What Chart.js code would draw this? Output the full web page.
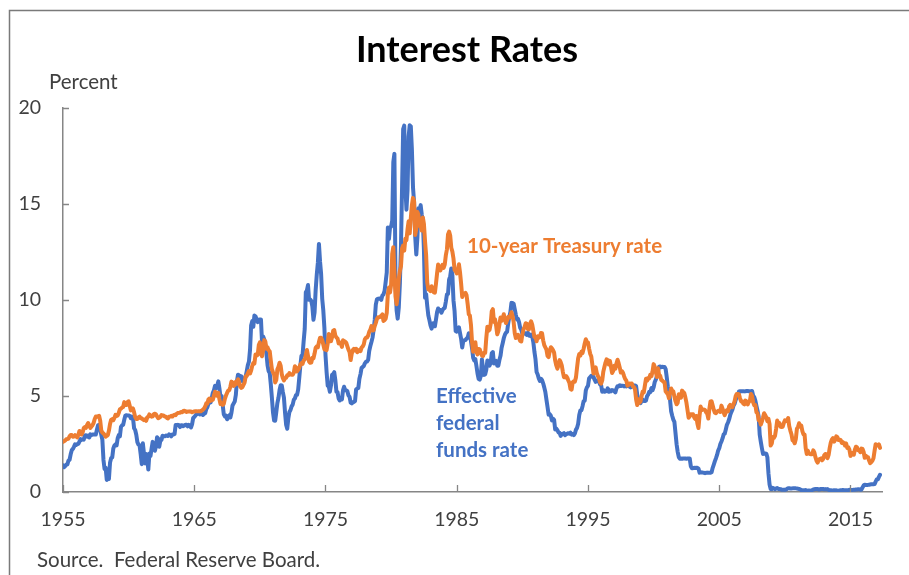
<!DOCTYPE html>
<html>
<head>
<meta charset="utf-8">
<script src="https://cdn.jsdelivr.net/npm/chart.js@4/dist/chart.umd.min.js"></script>
<style>
  html, body { margin: 0; padding: 0; background: #fff; }
  #wrap { position: relative; width: 909px; height: 575px; }
</style>
</head>
<body>
<div id="wrap"><canvas id="c" width="909" height="575"></canvas></div>
<script>
// ---------- DATA (monthly, Jan 1955 - Apr 2017) ----------
const startYear = 1955;
const xTickYears = [1955, 1965, 1975, 1985, 1995, 2005, 2015];
const yTickValues = [0, 5, 10, 15, 20];

const fedFunds = [
/*1955*/ 1.39,1.29,1.35,1.43,1.43,1.64,1.68,1.96,2.18,2.24,2.35,2.48,
/*1956*/ 2.45,2.50,2.50,2.62,2.75,2.71,2.75,2.73,2.95,2.96,2.88,2.94,
/*1957*/ 2.84,3.00,2.96,3.00,3.00,3.00,2.99,3.24,3.47,3.50,3.28,2.98,
/*1958*/ 2.72,1.67,1.20,1.26,0.63,0.93,0.68,1.53,1.76,1.80,2.27,2.42,
/*1959*/ 2.48,2.43,2.80,2.96,2.90,3.39,3.47,3.50,3.76,3.98,4.00,3.99,
/*1960*/ 3.99,3.97,3.84,3.92,3.85,3.32,3.23,2.98,2.60,2.47,2.44,1.98,
/*1961*/ 1.45,2.54,2.02,1.49,1.98,1.73,1.17,2.00,1.88,2.26,2.61,2.33,
/*1962*/ 2.15,2.37,2.85,2.78,2.36,2.68,2.71,2.93,2.90,2.90,2.94,2.93,
/*1963*/ 2.92,3.00,2.98,2.90,3.00,2.99,3.02,3.49,3.48,3.50,3.48,3.38,
/*1964*/ 3.48,3.48,3.43,3.47,3.50,3.50,3.42,3.50,3.45,3.36,3.52,3.85,
/*1965*/ 3.90,3.98,4.04,4.09,4.10,4.04,4.09,4.12,4.01,4.08,4.10,4.32,
/*1966*/ 4.42,4.60,4.65,4.67,4.90,5.17,5.30,5.53,5.40,5.53,5.76,5.40,
/*1967*/ 4.94,5.00,4.53,4.05,3.94,3.98,3.79,3.90,3.99,3.88,4.13,4.51,
/*1968*/ 4.61,4.71,5.05,5.76,6.11,6.07,6.02,6.03,5.78,5.91,5.82,6.02,
/*1969*/ 6.30,6.61,6.79,7.41,8.67,8.90,8.61,9.19,9.15,9.00,8.85,8.97,
/*1970*/ 8.98,8.98,7.76,8.10,7.95,7.61,7.21,6.61,6.29,6.20,5.60,4.90,
/*1971*/ 4.14,3.72,3.71,4.16,4.63,4.91,5.31,5.56,5.55,5.20,4.91,4.14,
/*1972*/ 3.50,3.29,3.83,4.17,4.27,4.46,4.55,4.80,4.87,5.04,5.06,5.33,
/*1973*/ 5.94,6.58,7.09,7.12,7.84,8.49,10.40,10.50,10.78,10.01,10.03,9.95,
/*1974*/ 9.65,8.97,9.35,10.51,11.31,11.93,12.92,12.01,11.34,10.06,9.45,8.53,
/*1975*/ 7.13,6.24,5.54,5.49,5.22,5.55,6.10,6.14,6.24,5.82,5.22,5.20,
/*1976*/ 4.87,4.77,4.84,4.82,5.29,5.48,5.31,5.29,5.25,5.03,4.95,4.65,
/*1977*/ 4.61,4.68,4.69,4.73,5.35,5.39,5.42,5.90,6.14,6.47,6.51,6.56,
/*1978*/ 6.70,6.78,6.79,6.89,7.36,7.60,7.81,8.04,8.45,8.96,9.76,10.03,
/*1979*/ 10.07,10.06,10.09,10.01,10.24,10.29,10.47,10.94,11.43,13.77,13.18,13.78,
/*1980*/ 13.82,14.13,17.19,17.61,10.98,9.47,9.03,9.61,10.87,12.81,15.85,18.90,
/*1981*/ 19.08,15.93,14.70,15.72,18.52,19.10,19.04,17.82,15.87,15.08,13.31,12.37,
/*1982*/ 13.22,14.78,14.68,14.94,14.45,14.15,12.59,10.12,10.31,9.71,9.20,8.95,
/*1983*/ 8.68,8.51,8.77,8.80,8.63,8.98,9.37,9.56,9.45,9.48,9.34,9.47,
/*1984*/ 9.56,9.59,9.91,10.29,10.32,11.06,11.23,11.64,11.30,9.99,9.43,8.38,
/*1985*/ 8.35,8.50,8.58,8.27,7.97,7.53,7.88,7.90,7.92,7.99,8.05,8.27,
/*1986*/ 8.14,7.86,7.48,6.99,6.85,6.92,6.56,6.17,5.89,5.85,6.04,6.91,
/*1987*/ 6.43,6.10,6.13,6.37,6.85,6.73,6.58,6.73,7.22,7.29,6.69,6.77,
/*1988*/ 6.83,6.58,6.58,6.87,7.09,7.51,7.75,8.01,8.19,8.30,8.35,8.76,
/*1989*/ 9.12,9.36,9.85,9.84,9.81,9.53,9.24,8.99,9.02,8.84,8.55,8.45,
/*1990*/ 8.23,8.24,8.28,8.26,8.18,8.29,8.15,8.13,8.20,8.11,7.81,7.31,
/*1991*/ 6.91,6.25,6.12,5.91,5.78,5.90,5.82,5.66,5.45,5.21,4.81,4.43,
/*1992*/ 4.03,4.06,3.98,3.73,3.82,3.76,3.25,3.30,3.22,3.10,3.09,2.92,
/*1993*/ 3.02,3.03,3.07,2.96,3.00,3.04,3.06,3.03,3.09,2.99,3.02,2.96,
/*1994*/ 3.05,3.25,3.34,3.56,4.01,4.25,4.26,4.47,4.73,4.76,5.29,5.45,
/*1995*/ 5.53,5.92,5.98,6.05,6.01,6.00,5.85,5.74,5.80,5.76,5.80,5.60,
/*1996*/ 5.56,5.22,5.31,5.22,5.24,5.27,5.40,5.22,5.30,5.24,5.31,5.29,
/*1997*/ 5.25,5.19,5.39,5.51,5.50,5.56,5.52,5.54,5.54,5.50,5.52,5.50,
/*1998*/ 5.56,5.51,5.49,5.45,5.49,5.56,5.54,5.55,5.51,5.07,4.83,4.68,
/*1999*/ 4.63,4.76,4.81,4.74,4.74,4.76,4.99,5.07,5.22,5.20,5.42,5.30,
/*2000*/ 5.45,5.73,5.85,6.02,6.27,6.53,6.54,6.50,6.52,6.51,6.51,6.40,
/*2001*/ 5.98,5.49,5.31,4.80,4.21,3.97,3.77,3.65,3.07,2.49,2.09,1.82,
/*2002*/ 1.73,1.74,1.73,1.75,1.75,1.75,1.73,1.74,1.75,1.75,1.34,1.24,
/*2003*/ 1.24,1.26,1.25,1.26,1.26,1.22,1.01,1.03,1.01,1.01,1.00,0.98,
/*2004*/ 1.00,1.01,1.00,1.00,1.00,1.03,1.26,1.43,1.61,1.76,1.93,2.16,
/*2005*/ 2.28,2.50,2.63,2.79,3.00,3.04,3.26,3.50,3.62,3.78,4.00,4.16,
/*2006*/ 4.29,4.49,4.59,4.79,4.94,4.99,5.24,5.25,5.25,5.25,5.25,5.24,
/*2007*/ 5.25,5.26,5.26,5.25,5.25,5.25,5.26,5.02,4.94,4.76,4.49,4.24,
/*2008*/ 3.94,2.98,2.61,2.28,1.98,2.00,2.01,2.00,1.81,0.97,0.39,0.16,
/*2009*/ 0.15,0.22,0.18,0.15,0.18,0.21,0.16,0.16,0.15,0.12,0.12,0.12,
/*2010*/ 0.11,0.13,0.16,0.20,0.20,0.18,0.18,0.19,0.19,0.19,0.19,0.18,
/*2011*/ 0.17,0.16,0.14,0.10,0.09,0.09,0.07,0.10,0.08,0.07,0.08,0.07,
/*2012*/ 0.08,0.10,0.13,0.14,0.16,0.16,0.16,0.13,0.14,0.16,0.16,0.16,
/*2013*/ 0.14,0.15,0.14,0.15,0.11,0.09,0.09,0.08,0.08,0.09,0.08,0.09,
/*2014*/ 0.07,0.07,0.08,0.09,0.09,0.10,0.09,0.09,0.09,0.09,0.09,0.12,
/*2015*/ 0.11,0.11,0.11,0.12,0.12,0.13,0.13,0.14,0.14,0.12,0.12,0.24,
/*2016*/ 0.34,0.38,0.36,0.37,0.37,0.38,0.39,0.40,0.40,0.40,0.41,0.54,
/*2017*/ 0.65,0.66,0.79,0.90
];

const treasury10 = [
/*1955*/ 2.61,2.65,2.68,2.75,2.76,2.78,2.90,2.97,2.97,2.88,2.89,2.96,
/*1956*/ 2.90,2.84,2.96,3.18,3.07,3.00,3.11,3.33,3.38,3.34,3.49,3.59,
/*1957*/ 3.46,3.34,3.41,3.48,3.60,3.80,3.93,3.93,3.92,3.97,3.72,3.21,
/*1958*/ 3.09,3.05,2.98,2.88,2.92,2.97,3.20,3.54,3.76,3.80,3.74,3.86,
/*1959*/ 4.02,3.96,3.99,4.12,4.31,4.34,4.40,4.43,4.68,4.53,4.53,4.69,
/*1960*/ 4.72,4.49,4.25,4.28,4.35,4.15,3.90,3.80,3.80,3.89,3.93,3.84,
/*1961*/ 3.84,3.78,3.74,3.78,3.71,3.88,3.92,4.04,3.98,3.92,3.94,4.06,
/*1962*/ 4.08,4.04,3.93,3.84,3.87,3.91,4.01,3.98,3.98,3.93,3.92,3.86,
/*1963*/ 3.83,3.92,3.93,3.97,3.93,3.99,4.02,4.00,4.08,4.11,4.12,4.13,
/*1964*/ 4.17,4.15,4.22,4.23,4.20,4.17,4.19,4.19,4.20,4.19,4.15,4.18,
/*1965*/ 4.19,4.21,4.21,4.20,4.21,4.21,4.20,4.25,4.29,4.35,4.45,4.62,
/*1966*/ 4.61,4.83,4.87,4.75,4.78,4.81,5.02,5.22,5.18,5.01,5.16,4.84,
/*1967*/ 4.58,4.63,4.54,4.59,4.85,5.02,5.16,5.28,5.30,5.48,5.75,5.70,
/*1968*/ 5.53,5.56,5.74,5.64,5.87,5.72,5.50,5.42,5.46,5.58,5.70,6.03,
/*1969*/ 6.04,6.19,6.30,6.17,6.32,6.57,6.72,6.69,7.16,7.10,7.14,7.65,
/*1970*/ 7.79,7.24,7.07,7.39,7.91,7.84,7.46,7.53,7.39,7.33,6.84,6.39,
/*1971*/ 6.24,6.11,5.70,5.83,6.39,6.52,6.73,6.58,6.14,5.93,5.81,5.93,
/*1972*/ 5.95,6.08,6.07,6.19,6.13,6.11,6.11,6.21,6.55,6.48,6.28,6.36,
/*1973*/ 6.46,6.64,6.71,6.67,6.85,6.90,7.13,7.40,7.09,6.79,6.73,6.74,
/*1974*/ 6.99,6.96,7.21,7.51,7.58,7.54,7.81,8.04,8.04,7.90,7.68,7.43,
/*1975*/ 7.50,7.39,7.73,8.23,8.06,7.86,8.06,8.40,8.43,8.14,8.05,8.00,
/*1976*/ 7.74,7.79,7.73,7.56,7.90,7.86,7.83,7.77,7.59,7.41,7.29,6.87,
/*1977*/ 7.21,7.39,7.46,7.37,7.46,7.28,7.33,7.40,7.34,7.52,7.58,7.69,
/*1978*/ 7.96,8.03,8.04,8.15,8.35,8.46,8.64,8.41,8.42,8.64,8.81,9.01,
/*1979*/ 9.10,9.10,9.12,9.18,9.25,8.91,8.95,9.03,9.33,10.30,10.65,10.39,
/*1980*/ 10.80,12.41,12.75,11.47,10.18,9.78,10.25,11.10,11.51,11.75,12.68,12.84,
/*1981*/ 12.57,13.19,13.12,13.68,14.10,13.47,14.28,14.94,15.32,15.15,13.39,13.72,
/*1982*/ 14.59,14.43,13.86,13.87,13.62,14.30,13.95,13.06,12.34,10.91,10.55,10.54,
/*1983*/ 10.46,10.72,10.51,10.40,10.38,10.85,11.38,11.85,11.65,11.54,11.69,11.83,
/*1984*/ 11.67,11.84,12.32,12.63,13.41,13.56,13.36,12.72,12.52,12.16,11.57,11.50,
/*1985*/ 11.38,11.51,11.86,11.43,10.85,10.16,10.31,10.33,10.37,10.24,9.78,9.26,
/*1986*/ 9.19,8.70,7.78,7.30,7.71,7.80,7.30,7.17,7.45,7.43,7.25,7.11,
/*1987*/ 7.08,7.25,7.25,8.02,8.61,8.40,8.45,8.76,9.42,9.52,8.86,8.99,
/*1988*/ 8.67,8.21,8.37,8.72,9.09,8.92,9.06,9.26,8.98,8.80,8.96,9.11,
/*1989*/ 9.09,9.17,9.36,9.18,8.86,8.28,8.02,8.11,8.19,8.01,7.87,7.84,
/*1990*/ 8.21,8.47,8.59,8.79,8.76,8.48,8.47,8.75,8.89,8.72,8.39,8.08,
/*1991*/ 8.09,7.85,8.11,8.04,8.07,8.28,8.27,7.90,7.65,7.53,7.42,7.09,
/*1992*/ 7.03,7.34,7.54,7.48,7.39,7.26,6.84,6.59,6.42,6.59,6.87,6.77,
/*1993*/ 6.60,6.26,5.98,5.97,6.04,5.96,5.81,5.68,5.36,5.33,5.72,5.77,
/*1994*/ 5.75,5.97,6.48,6.97,7.18,7.10,7.30,7.24,7.46,7.74,7.96,7.81,
/*1995*/ 7.78,7.47,7.20,7.06,6.63,6.17,6.28,6.49,6.20,6.04,5.93,5.71,
/*1996*/ 5.65,5.81,6.27,6.51,6.74,6.91,6.87,6.64,6.83,6.53,6.20,6.30,
/*1997*/ 6.58,6.42,6.69,6.89,6.71,6.49,6.22,6.30,6.21,6.03,5.88,5.81,
/*1998*/ 5.54,5.57,5.65,5.64,5.65,5.50,5.46,5.34,4.81,4.53,4.83,4.65,
/*1999*/ 4.72,5.00,5.23,5.18,5.54,5.90,5.79,5.94,5.92,6.11,6.03,6.28,
/*2000*/ 6.66,6.52,6.26,5.99,6.44,6.10,6.05,5.83,5.80,5.74,5.72,5.24,
/*2001*/ 5.16,5.10,4.89,5.14,5.39,5.28,5.24,4.97,4.73,4.57,4.65,5.09,
/*2002*/ 5.04,4.91,5.28,5.21,5.16,4.93,4.65,4.26,3.87,3.94,4.05,4.03,
/*2003*/ 4.05,3.90,3.81,3.96,3.57,3.33,3.98,4.45,4.27,4.29,4.30,4.27,
/*2004*/ 4.15,4.08,3.83,4.35,4.72,4.73,4.50,4.28,4.13,4.10,4.19,4.23,
/*2005*/ 4.22,4.17,4.50,4.34,4.14,4.00,4.18,4.26,4.20,4.46,4.54,4.47,
/*2006*/ 4.42,4.57,4.72,4.99,5.11,5.11,5.09,4.88,4.72,4.73,4.60,4.56,
/*2007*/ 4.76,4.72,4.56,4.69,4.75,5.10,5.00,4.67,4.52,4.53,4.15,4.10,
/*2008*/ 3.74,3.74,3.51,3.68,3.88,4.10,4.01,3.89,3.69,3.81,3.53,2.42,
/*2009*/ 2.52,2.87,2.82,2.93,3.29,3.72,3.56,3.59,3.40,3.39,3.40,3.59,
/*2010*/ 3.73,3.69,3.73,3.85,3.42,3.20,3.01,2.70,2.65,2.54,2.76,3.29,
/*2011*/ 3.39,3.58,3.41,3.46,3.17,3.00,3.00,2.30,1.98,2.15,2.01,1.98,
/*2012*/ 1.97,1.97,2.17,2.05,1.80,1.62,1.53,1.68,1.72,1.75,1.65,1.72,
/*2013*/ 1.91,1.98,1.96,1.76,1.93,2.30,2.58,2.74,2.81,2.62,2.72,2.90,
/*2014*/ 2.86,2.71,2.72,2.71,2.56,2.60,2.54,2.42,2.53,2.30,2.33,2.21,
/*2015*/ 1.88,1.98,2.04,1.94,2.20,2.36,2.32,2.17,2.17,2.07,2.26,2.24,
/*2016*/ 2.09,1.78,1.89,1.81,1.81,1.64,1.50,1.56,1.63,1.76,2.14,2.49,
/*2017*/ 2.43,2.42,2.48,2.30
];

// ---------- STYLE ----------
const BLUE = '#4472C4';
const ORANGE = '#ED7D31';
const TEXT = '#404040';
const AXIS = '#868686';
const FONT = 'Lato, "Open Sans", sans-serif';

const toPoints = arr => arr.map((v, i) => ({ x: startYear + i / 12, y: v }));

const decor = {
  id: 'decor',
  afterDraw(chart) {
    const ctx = chart.ctx;
    const xs = chart.scales.x, ys = chart.scales.y;
    const area = chart.chartArea;
    ctx.save();
    // outer frame (top & left visible)
    ctx.strokeStyle = '#7a7a7a';
    ctx.lineWidth = 1.5;
    ctx.beginPath();
    ctx.moveTo(9.5, 576); ctx.lineTo(9.5, 10.5); ctx.lineTo(910, 10.5);
    ctx.stroke();
    // inward tick marks
    ctx.strokeStyle = AXIS;
    ctx.lineWidth = 1.3;
    ctx.beginPath();
    xTickYears.forEach(v => {
      const px = Math.round(xs.getPixelForValue(v)) + 0.5;
      ctx.moveTo(px, area.bottom); ctx.lineTo(px, area.bottom - 7);
    });
    yTickValues.forEach(v => {
      const py = Math.round(ys.getPixelForValue(v)) + 0.5;
      ctx.moveTo(area.left, py); ctx.lineTo(area.left + 6, py);
    });
    ctx.stroke();
    // title
    ctx.fillStyle = '#000';
    ctx.textAlign = 'center';
    ctx.textBaseline = 'alphabetic';
    ctx.font = 'bold 36px ' + FONT;
    ctx.fillText('Interest Rates', 467, 62);
    // axis unit
    ctx.fillStyle = TEXT;
    ctx.textAlign = 'left';
    ctx.font = '20.5px ' + FONT;
    ctx.fillText('Percent', 49, 89);
    // source
    ctx.fillText('Source.  Federal Reserve Board.', 37, 567);
    // series annotations
    ctx.font = 'bold 20.5px ' + FONT;
    ctx.fillStyle = ORANGE;
    ctx.fillText('10-year Treasury rate', 467, 253);
    ctx.fillStyle = BLUE;
    ctx.fillText('Effective', 436, 403);
    ctx.fillText('federal', 436, 430);
    ctx.fillText('funds rate', 436, 457);
    ctx.restore();
  }
};

new Chart(document.getElementById('c'), {
  type: 'line',
  data: {
    datasets: [
      {
        label: '10-year Treasury rate',
        data: toPoints(treasury10),
        borderColor: ORANGE,
        borderWidth: 4,
        pointRadius: 0,
        tension: 0,
        borderJoinStyle: 'round',
        borderCapStyle: 'round',
        order: 1
      },
      {
        label: 'Effective federal funds rate',
        data: toPoints(fedFunds),
        borderColor: BLUE,
        borderWidth: 4,
        pointRadius: 0,
        tension: 0,
        borderJoinStyle: 'round',
        borderCapStyle: 'round',
        order: 2
      }
    ]
  },
  options: {
    responsive: false,
    animation: false,
    events: [],
    layout: { padding: { top: 108, right: 27, bottom: 0, left: 0 } },
    plugins: { legend: { display: false }, tooltip: { enabled: false }, title: { display: false } },
    scales: {
      x: {
        type: 'linear',
        min: 1955,
        max: 2017.4,
        afterBuildTicks: s => { s.ticks = xTickYears.map(v => ({ value: v })); },
        afterFit: s => { s.height = 83; },
        grid: { display: true, drawOnChartArea: false, drawTicks: false },
        border: { display: true, color: AXIS, width: 1.5 },
        ticks: {
          color: TEXT, font: { family: FONT, size: 19.5 }, padding: 16,
          maxRotation: 0, autoSkip: false,
          callback: v => String(v)
        }
      },
      y: {
        min: 0,
        max: 20,
        afterBuildTicks: s => { s.ticks = yTickValues.map(v => ({ value: v })); },
        afterFit: s => { s.width = 63; },
        grid: { display: true, drawOnChartArea: false, drawTicks: false },
        border: { display: true, color: AXIS, width: 1.5 },
        ticks: {
          color: TEXT, font: { family: FONT, size: 19.5 }, padding: 22,
          callback: v => String(v)
        }
      }
    }
  },
  plugins: [decor]
});
</script>
</body>
</html>
